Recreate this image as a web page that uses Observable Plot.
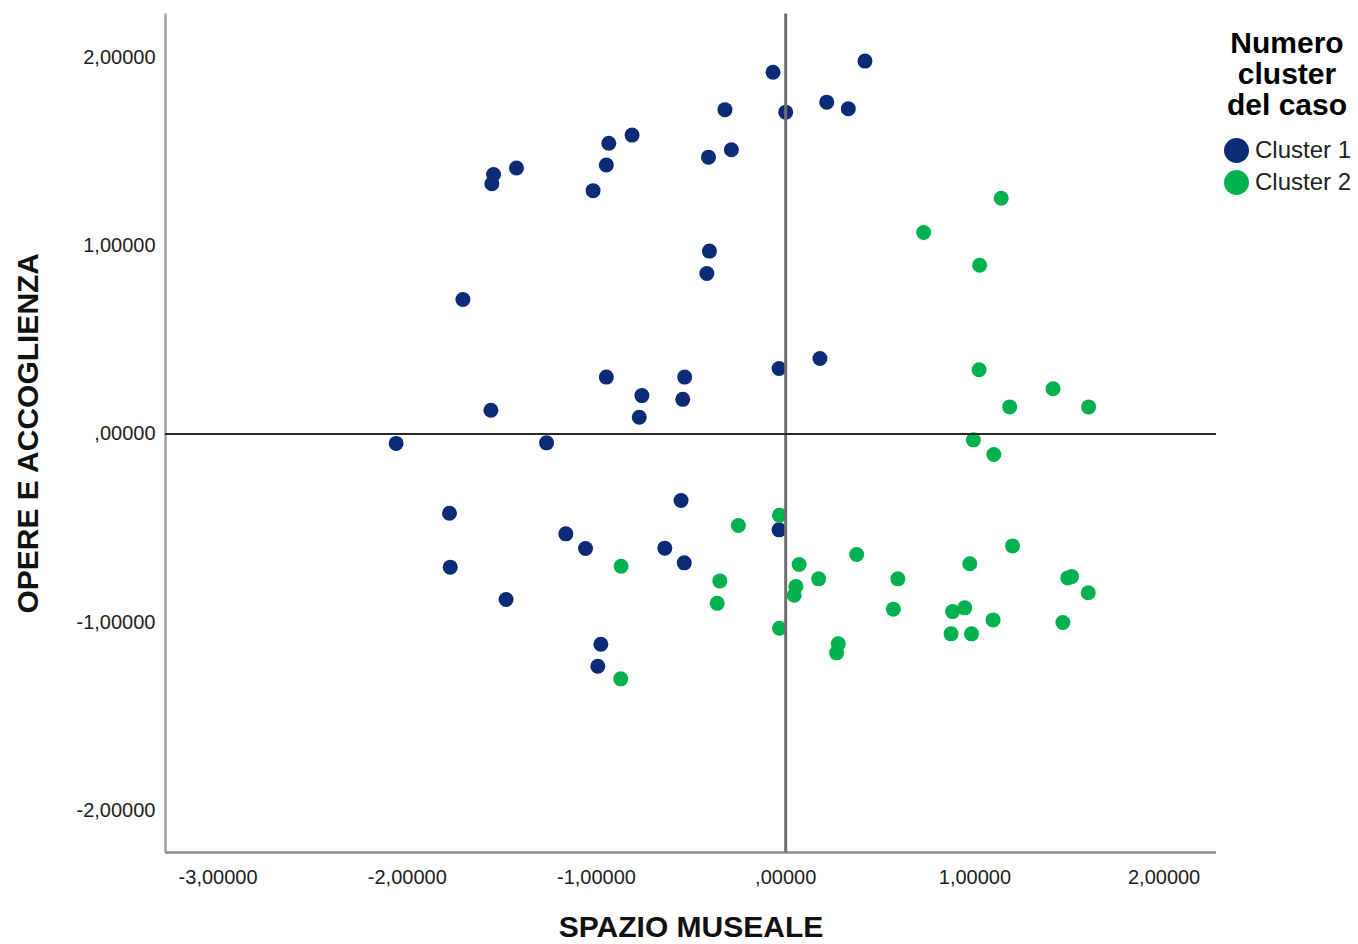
<!DOCTYPE html>
<html>
<head>
<meta charset="utf-8">
<script src="https://cdn.jsdelivr.net/npm/d3@7"></script>
<script src="https://cdn.jsdelivr.net/npm/@observablehq/plot@0.6"></script>
<style>
  body { margin: 0; background: #fff; }
  #wrap { position: relative; width: 1358px; height: 944px; font-family: "Liberation Sans", Arial, sans-serif; }
  #legend { position: absolute; left: 1212px; top: 27px; width: 150px; }
  #legend .title { font-weight: bold; font-size: 30px; line-height: 31px; text-align: center; width: 154px; margin-left: -2px; color: #000; }
  #legend .item { display: flex; align-items: center; font-size: 24px; height: 32px; color: #222; }
  #legend .sw { width: 25px; height: 25px; border-radius: 50%; margin-right: 6px; margin-left: 12px; }
</style>
</head>
<body>
<div id="wrap"></div>
<script>
// Cluster 1 (SPAZIO MUSEALE, OPERE E ACCOGLIENZA)
const cluster1X = [0.419, -0.067, 0.217, 0.331, -0.321, 0.000, -0.812, -0.935, -0.287, -0.408,
  -0.948, -1.423, -1.544, -1.553, -1.018, -0.403, -0.417, -1.706, 0.181, -0.035,
  -0.948, -0.534, -0.760, -0.544, -1.558, -0.774, -2.059, -1.264, -0.553, -1.777,
  -0.035, -1.162, -1.058, -0.639, -0.536, -1.773, -1.478, -0.977, -0.993];
const cluster1Y = [1.980, 1.921, 1.762, 1.727, 1.722, 1.709, 1.587, 1.544, 1.509, 1.470,
  1.428, 1.412, 1.378, 1.329, 1.292, 0.971, 0.852, 0.714, 0.401, 0.348,
  0.302, 0.302, 0.204, 0.184, 0.126, 0.089, -0.050, -0.047, -0.353, -0.421,
  -0.509, -0.530, -0.608, -0.606, -0.684, -0.707, -0.879, -1.116, -1.233];
// Cluster 2
const cluster2X = [1.139, 0.729, 1.025, 1.022, 1.413, 1.184, 1.601, 0.992, 1.100, -0.033,
  -0.250, 1.199, 0.375, 0.071, 0.973, -0.870, -0.348, 0.174, 0.593, 1.491,
  1.511, 0.054, 0.045, 1.599, -0.362, 0.569, 0.882, 0.946, 1.096, 1.465,
  -0.033, 0.874, 0.982, 0.278, 0.269, -0.872];
const cluster2Y = [1.252, 1.070, 0.896, 0.341, 0.240, 0.144, 0.144, -0.031, -0.109, -0.431,
  -0.486, -0.594, -0.640, -0.693, -0.689, -0.702, -0.780, -0.769, -0.769, -0.764,
  -0.757, -0.810, -0.856, -0.843, -0.899, -0.930, -0.943, -0.923, -0.987, -1.001,
  -1.031, -1.061, -1.061, -1.114, -1.162, -1.300];

const clusterNames = ["Cluster 1", "Cluster 2"];
const clusterColors = ["#0b2b76", "#00b14f"];
const xTicks = [-3, -2, -1, 0, 1, 2];
const yTicks = [-2, -1, 0, 1, 2];
const xDomain = [-3.278, 2.277];
const yDomain = [-2.222, 2.230];
const refX = [0];
const refY = [0];
const xTitle = "SPAZIO MUSEALE";
const yTitle = "OPERE E ACCOGLIENZA";
const legendTitle = ["Numero", "cluster", "del caso"];

const points = [
  ...cluster1X.map((x, i) => ({x, y: cluster1Y[i], c: clusterNames[0]})),
  ...cluster2X.map((x, i) => ({x, y: cluster2Y[i], c: clusterNames[1]}))
];

const fmt = v => (v < 0 ? "-" : "") + (v === 0 ? "" : Math.abs(v)) + ",00000";

const chart = Plot.plot({
  width: 1358,
  height: 944,
  marginLeft: 165,
  marginRight: 142,
  marginTop: 13.5,
  marginBottom: 92,
  style: { fontFamily: "'Liberation Sans', Arial, sans-serif", background: "#fff" },
  x: { domain: xDomain, ticks: xTicks, tickFormat: fmt },
  y: { domain: yDomain, ticks: yTicks, tickFormat: fmt },
  color: { domain: clusterNames, range: clusterColors },
  marks: [
    Plot.axisX({ticks: xTicks, tickFormat: fmt, tickSize: 0, tickPadding: 17, fontSize: 20, label: null, fill: "#222"}),
    Plot.axisY({ticks: yTicks, tickFormat: fmt, tickSize: 0, tickPadding: 10, fontSize: 20, label: null, fill: "#222"}),
    Plot.dot(points, {x: "x", y: "y", fill: "c", r: 7.5}),
    Plot.ruleX([xDomain[0]], {stroke: "#a0a0a0", strokeWidth: 2.5}),
    Plot.ruleY([yDomain[0]], {stroke: "#8c8c8c", strokeWidth: 2.5}),
    Plot.ruleX(refX, {stroke: "#6e6e6e", strokeWidth: 3}),
    Plot.ruleY(refY, {stroke: "#2a2a2a", strokeWidth: 2}),
    Plot.text([xTitle], {frameAnchor: "bottom", dy: 84, fontSize: 30, fontWeight: "bold", fill: "#111"}),
    Plot.text([yTitle], {frameAnchor: "left", dx: -137, rotate: -90, textAnchor: "middle", fontSize: 30, fontWeight: "bold", fill: "#111"})
  ]
});

const wrap = document.getElementById("wrap");
wrap.appendChild(chart);

const legend = document.createElement("div");
legend.id = "legend";
const t = document.createElement("div");
t.className = "title";
t.innerHTML = legendTitle.join("<br>");
legend.appendChild(t);
const sp = document.createElement("div");
sp.style.height = "14px";
legend.appendChild(sp);
clusterNames.forEach((n, i) => {
  const it = document.createElement("div");
  it.className = "item";
  const sw = document.createElement("span");
  sw.className = "sw";
  sw.style.background = clusterColors[i];
  it.appendChild(sw);
  it.appendChild(document.createTextNode(n));
  legend.appendChild(it);
});
wrap.appendChild(legend);
</script>
</body>
</html>
